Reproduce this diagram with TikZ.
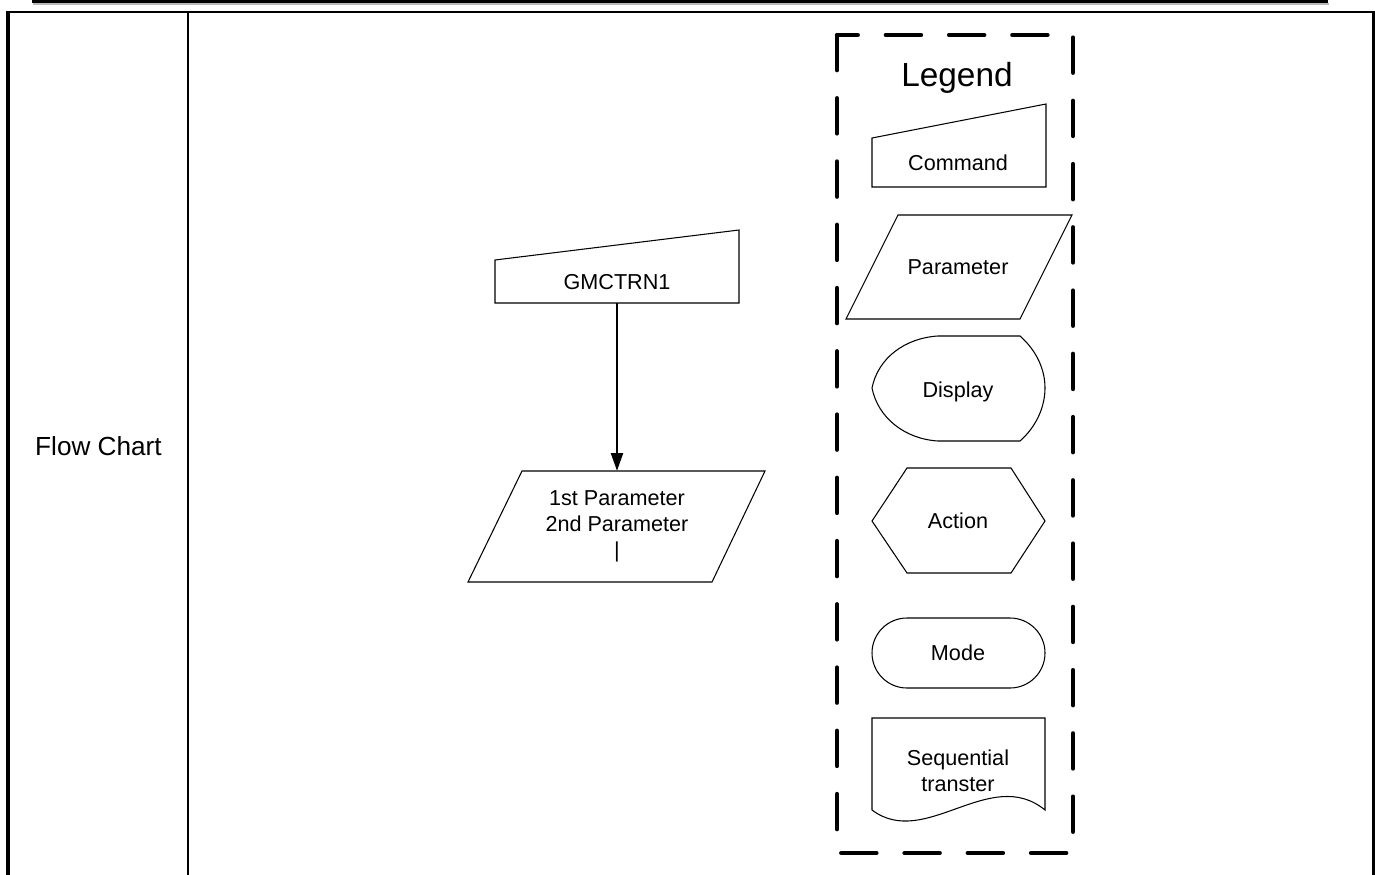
\documentclass[tikz,border=0pt]{standalone}
\usepackage{fontspec}
\setmainfont{Liberation Sans}
\usepackage{xcolor}
\usepackage{tikz}
\usetikzlibrary{arrows.meta,calc,positioning}

\begin{document}
\begin{tikzpicture}[x=0.02cm, y=-0.02cm,
 shapeline/.style={draw=black, line width=0.6pt, line join=miter},
 labeltext/.style={font=\fontsize{12.3}{14.7}\selectfont, align=center, inner sep=0pt},
 legendbox/.style={line width=2.5pt, line cap=round, dash pattern=on 20pt off 16pt},
 flowarrow/.style={-{Triangle[length=10pt, width=7pt]}, line width=0.6pt}]
\useasboundingbox (0,0) rectangle (1375,875);

% header bar with its shadow
\draw[gray!55, line width=1.1pt] (33,3.6) -- (1329,3.6);
\draw[black, line width=1.7pt] (32,1.5) -- (1328,1.5);

% table frame
\draw[line width=2.3pt] (8,875) -- (8,12);
\draw[line width=1.6pt] (6,12) -- (1375,12);
\draw[line width=1.7pt] (1373.5,12) -- (1373.5,875);
\draw[line width=1.4pt] (188,12) -- (188,875);
\node[font=\fontsize{14.9}{18}\selectfont, anchor=base] (rowlabel) at (98.5,455) {Flow Chart};

% command GMCTRN1
\draw[shapeline] (495,303) -- (495,260) -- (739,230) -- (739,303) -- cycle;
\node[labeltext, minimum height=0.84cm] (gmctrn) at (617,282) {GMCTRN1};

% its parameters
\draw[shapeline] (522,471) -- (765,471) -- (712,582) -- (468,582) -- cycle;
\node[labeltext, minimum height=2.22cm] (params) at (617,526.5) {1st Parameter\\2nd Parameter\\|};

\draw[flowarrow] (gmctrn) -- (params);

% legend
\draw[legendbox] (837,35) rectangle (1073,853);
\node[font=\fontsize{19}{22}\selectfont, inner sep=0pt, anchor=base] (legendtitle) at (957,87) {Legend};

\draw[shapeline] (872,187) -- (872,138) -- (1046,104) -- (1046,187) -- cycle;
\draw[shapeline] (898,215) -- (1072,215) -- (1020,319) -- (846,319) -- cycle;
\draw[shapeline] (938,336) -- (1020,336)
 .. controls (1037,351) and (1045,370) .. (1045,388)
 .. controls (1045,406) and (1037,426) .. (1020,441) -- (938,441)
 .. controls (905,439) and (878,418) .. (872,388)
 .. controls (878,358) and (905,338) .. (938,336) -- cycle;
\draw[shapeline] (872,521) -- (907,468) -- (1011,468) -- (1045,521) -- (1011,573) -- (907,573) -- cycle;
\draw[shapeline, rounded corners=0.7cm] (872,618) rectangle (1045,688);
\draw[shapeline] (872,810) -- (872,718) -- (1045,718) -- (1045,810)
 .. controls (990,765) and (925,850) .. (872,810);

\foreach \name/\y/\txt in {cmd/170/Command, par/274/Parameter, disp/397/Display, act/528/Action, mode/660/Mode} {
 \node[labeltext, anchor=base] (lg\name) at (958,\y) {\txt};
}
\node[labeltext] (lgseq) at (958,771) {Sequential\\transter};
\end{tikzpicture}
\end{document}
